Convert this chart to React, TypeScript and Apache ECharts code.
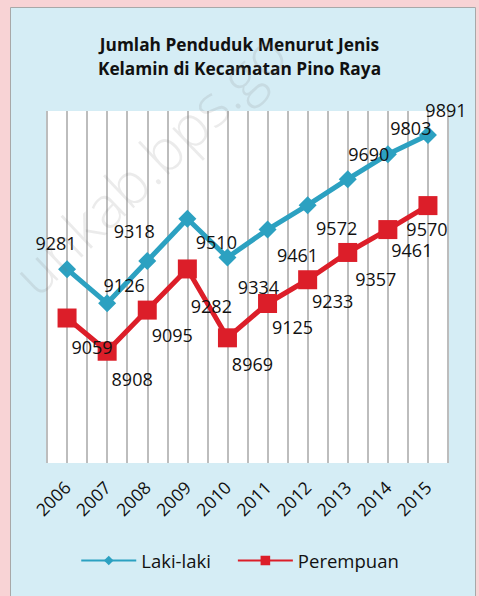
import React, { useEffect, useRef } from "react";
import * as echarts from "echarts";

const years = ["2006", "2007", "2008", "2009", "2010", "2011", "2012", "2013", "2014", "2015"];
const lakiLaki = [9281, 9126, 9318, 9510, 9334, 9461, 9572, 9690, 9803, 9891];
const perempuan = [9059, 8908, 9095, 9282, 8969, 9125, 9233, 9357, 9461, 9570];
const seriesNames = ["Laki-laki", "Perempuan"];
const titleText = "Jumlah Penduduk Menurut Jenis\nKelamin di Kecamatan Pino Raya";
const watermark = "unkab.bps.go";

// label placement (offsets from each point, in px)
const lakiLabelOffsets = [[-11, -26], [17, -18], [-13, -30], [29, 23], [31, 29], [30, 25], [29, 23], [21, -25], [23, -26], [18, -25]];
const perempuanLabelOffsets = [[25, 29], [25, 28], [25, 25], [24, 37], [25, 26], [25, 23], [25, 21], [28, 27], [24, 20], [-1, 23]];

const FONT = "'Open Sans', 'Noto Sans', sans-serif";
const BLUE = "#2ca1c1";
const RED = "#dc1e29";

export default function App() {
  const ref = useRef<HTMLDivElement>(null);
  useEffect(() => {
    if (!ref.current) return;
    const chart = echarts.init(ref.current, undefined, { renderer: "svg" });
    const mk = (vals: number[], offs: number[][]) =>
      vals.map((v, i) => ({ value: v, label: { offset: offs[i] } }));
    chart.setOption({
      animation: false,
      backgroundColor: "#f8d3d5",
      graphic: [
        {
          type: "rect",
          z: -10,
          shape: { x: 10.5, y: 7.5, width: 465, height: 600 },
          style: { fill: "#d5edf5", stroke: "#a8a8a8", lineWidth: 1 },
        },
        {
          type: "text",
          z: 100,
          x: 2,
          y: 262,
          rotation: 0.76,
          style: {
            text: watermark,
            font: `300 58px ${FONT}`,
            fill: "rgba(120,120,120,0.15)",
            verticalAlign: "top",
          },
        },
      ],
      title: {
        text: titleText,
        left: "center",
        top: 27,
        padding: [5, 0, 5, 7],
        textStyle: { fontFamily: FONT, fontSize: 17.3, fontWeight: "bold", color: "#111", lineHeight: 24 },
      },
      legend: {
        data: seriesNames,
        bottom: 21,
        left: "center",
        padding: [5, 5, 5, 18],
        itemWidth: 55,
        itemHeight: 12,
        itemGap: 26,
        textStyle: { fontFamily: FONT, fontSize: 18.5, color: "#111" },
      },
      grid: {
        left: 47,
        right: 31,
        top: 111,
        bottom: 133,
        show: true,
        backgroundColor: "#ffffff",
        borderWidth: 0,
        containLabel: false,
      },
      xAxis: [
        {
          type: "category",
          data: years,
          boundaryGap: true,
          axisLine: { show: false },
          axisTick: { show: false },
          splitLine: { show: false },
          axisLabel: { rotate: 45, margin: 21, fontFamily: FONT, fontSize: 17.5, color: "#111", interval: 0 },
        },
        {
          type: "value",
          min: 0,
          max: years.length * 2,
          interval: 1,
          position: "bottom",
          axisLine: { show: false },
          axisTick: { show: false },
          axisLabel: { show: false },
          splitLine: { show: true, lineStyle: { color: "#bdbdbd", width: 2 } },
        },
      ],
      yAxis: {
        type: "value",
        min: 8400,
        max: 10000,
        show: false,
        splitLine: { show: false },
      },
      series: [
        {
          name: seriesNames[0],
          type: "line",
          xAxisIndex: 0,
          data: mk(lakiLaki, lakiLabelOffsets),
          symbol: "diamond",
          symbolSize: 18,
          lineStyle: { color: BLUE, width: 5 },
          itemStyle: { color: BLUE },
          label: {
            show: true,
            position: "inside",
            fontFamily: FONT,
            fontSize: 18,
            color: "#111",
          },
          z: 3,
        },
        {
          name: seriesNames[1],
          type: "line",
          xAxisIndex: 0,
          data: mk(perempuan, perempuanLabelOffsets),
          symbol: "rect",
          symbolSize: 19,
          lineStyle: { color: RED, width: 5 },
          itemStyle: { color: RED },
          label: {
            show: true,
            position: "inside",
            fontFamily: FONT,
            fontSize: 18,
            color: "#111",
          },
          z: 3,
        },
      ],
    });
    return () => chart.dispose();
  }, []);
  return <div ref={ref} style={{ position: "absolute", left: 0, top: 0, width: 479, height: 596 }} />;
}
